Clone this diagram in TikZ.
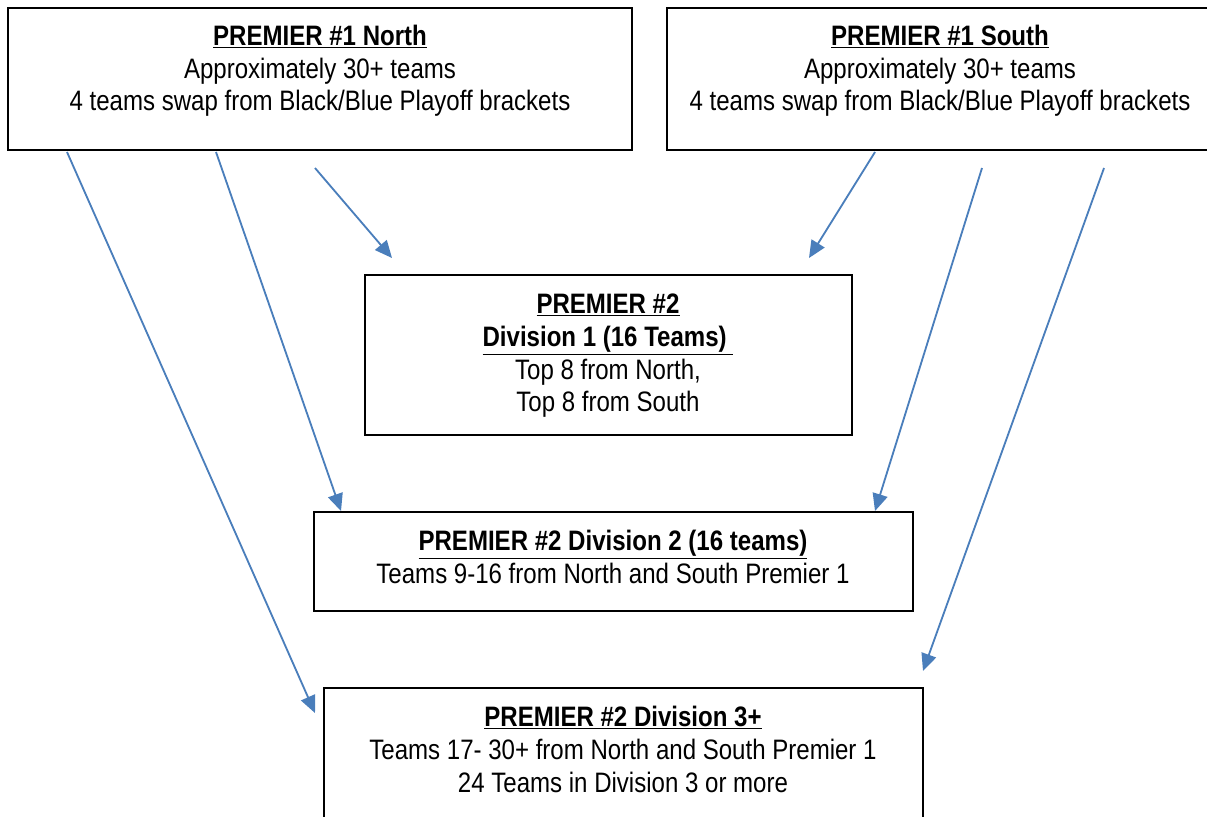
\documentclass[tikz,border=0pt]{standalone}
\usepackage{fontspec}
\setmainfont{Liberation Sans}[FakeStretch=0.855]
\usetikzlibrary{arrows.meta}
\definecolor{arrowblue}{RGB}{74,126,187}
\tikzset{
	box/.style = {draw, line width = 0.9pt, rectangle, inner sep = 0pt},
	flow/.style = {draw = arrowblue, line width = 1.3pt, -{Triangle[length = 0.43cm, width = 0.38cm]}}
}
\begin{document}
\begin{tikzpicture}[x = 0.025cm, y = -0.025cm, font = \fontsize{20}{23.4}\selectfont]
	\useasboundingbox (0, 0) rectangle (1207, 816);
	% boxes
	\node[box, minimum width = 15.6cm, minimum height = 3.55cm] (north) at (320, 79) {};
	\node[box, minimum width = 13.65cm, minimum height = 3.55cm] (south) at (940, 79) {};
	\node[box, minimum width = 12.175cm, minimum height = 4cm] (divone) at (608.5, 355) {};
	\node[box, minimum width = 14.975cm, minimum height = 2.475cm] (divtwo) at (613.5, 561.5) {};
	\node[box, minimum width = 14.975cm, minimum height = 4cm] (divthree) at (623.5, 768) {};
	% texts
	\node (northtxt) at (320, 71.5) {\begin{tabular}{c} \textbf{\underline{PREMIER \#1 North}} \\ Approximately 30+ teams \\ 4 teams swap from Black/Blue Playoff brackets \end{tabular}};
	\node (southtxt) at (940, 71.5) {\begin{tabular}{c} \textbf{\underline{PREMIER \#1 South}} \\ Approximately 30+ teams \\ 4 teams swap from Black/Blue Playoff brackets \end{tabular}};
	\node (divonetxt) at (608, 356) {\begin{tabular}{c} \textbf{\underline{PREMIER \#2}} \\ \textbf{\underline{Division 1 (16 Teams)~}} \\ Top 8 from North, \\ Top 8 from South \end{tabular}};
	\node (divtwotxt) at (613, 560.5) {\begin{tabular}{c} \textbf{\underline{PREMIER \#2 Division 2 (16 teams)}} \\ Teams 9-16 from North and South Premier 1 \end{tabular}};
	\node (divthreetxt) at (623, 752.5) {\begin{tabular}{c} \textbf{\underline{PREMIER \#2 Division 3+}} \\ Teams 17- 30+ from North and South Premier 1 \\ 24 Teams in Division 3 or more \end{tabular}};
	% arrow ends
	\coordinate (n1) at (67, 152);
	\coordinate (n2) at (216, 152);
	\coordinate (n3) at (315, 168);
	\coordinate (s1) at (875, 152);
	\coordinate (s2) at (982, 168);
	\coordinate (s3) at (1104, 168);
	\coordinate (d1l) at (392, 258);
	\coordinate (d1r) at (809, 258);
	\coordinate (d2l) at (341, 511);
	\coordinate (d2r) at (875, 511);
	\coordinate (d3l) at (315, 713);
	\coordinate (d3r) at (923, 671);
	\draw[flow] (n1) -- (d3l);
	\draw[flow] (n2) -- (d2l);
	\draw[flow] (n3) -- (d1l);
	\draw[flow] (s1) -- (d1r);
	\draw[flow] (s2) -- (d2r);
	\draw[flow] (s3) -- (d3r);
\end{tikzpicture}
\end{document}
